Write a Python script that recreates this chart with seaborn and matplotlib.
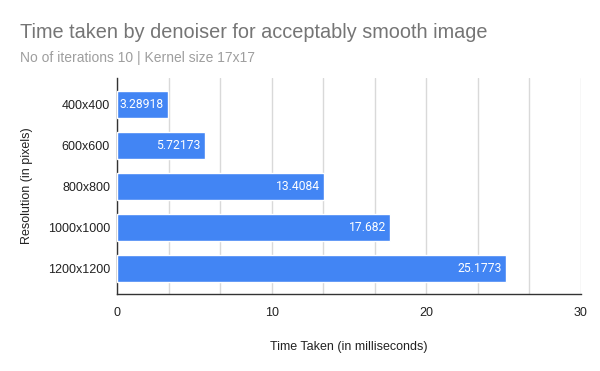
import matplotlib
matplotlib.use("Agg")
import matplotlib.pyplot as plt
from matplotlib.ticker import MultipleLocator
import seaborn as sns
import pandas as pd
import numpy as np

resolutions = ["400x400", "600x600", "800x800", "1000x1000", "1200x1200"]
times = [3.28918, 5.72173, 13.4084, 17.682, 25.1773]
value_labels = ["3.28918", "5.72173", "13.4084", "17.682", "25.1773"]

df = pd.DataFrame({"Resolution": resolutions, "Time": times})

sns.set_theme(style="white")
plt.rcParams['font.family'] = ['Liberation Sans', 'DejaVu Sans']

fig = plt.figure(figsize=(6, 3.71), dpi=100)
ax = fig.add_axes([117/600, 1-294/371, (581-117)/600, (294-78)/371])

sns.barplot(data=df, x="Time", y="Resolution", orient="h", color="#4285F4",
            saturation=1, width=0.645, ax=ax, zorder=3)

ax.set_xlim(0, 30)
ax.set_ylim(4.62, -0.64)
ax.xaxis.set_major_locator(MultipleLocator(10))
ax.xaxis.set_minor_locator(MultipleLocator(10/3))
ax.grid(True, axis="x", which="both", color="#d9d9d9", linewidth=1, zorder=0)
ax.set_axisbelow(True)

for s in ["top", "right"]:
    ax.spines[s].set_visible(False)
ax.spines["left"].set_color("#333333")
ax.spines["bottom"].set_color("#333333")
ax.spines["left"].set_linewidth(1)
ax.spines["bottom"].set_linewidth(1)

ax.tick_params(axis="x", which="both", direction="inout", length=6, width=1,
               color="#333333", labelsize=9, labelcolor="#222222", pad=6)
ax.tick_params(axis="y", which="both", length=0, labelsize=9, labelcolor="#222222", pad=5)

ax.set_xlabel("Time Taken (in milliseconds)", fontsize=9, color="#222222", labelpad=16)
ax.set_ylabel("Resolution (in pixels)", fontsize=9, color="#222222", labelpad=11)

for p, lab in zip(ax.patches, value_labels):
    w = p.get_width()
    y = p.get_y() + p.get_height() / 2
    ax.text(w - 0.3, y, lab, ha="right", va="center", color="white",
            fontsize=8.7, family=["Roboto", "DejaVu Sans"], zorder=4)

fig.text(20/600, 1-32/371, "Time taken by denoiser for acceptably smooth image",
         fontsize=14.3, color="#757575", ha="left", va="center")
fig.text(20/600, 1-58/371, "No of iterations 10 | Kernel size 17x17",
         fontsize=10, color="#9e9e9e", ha="left", va="center")

fig.savefig("out.png", dpi=100, facecolor="white")
